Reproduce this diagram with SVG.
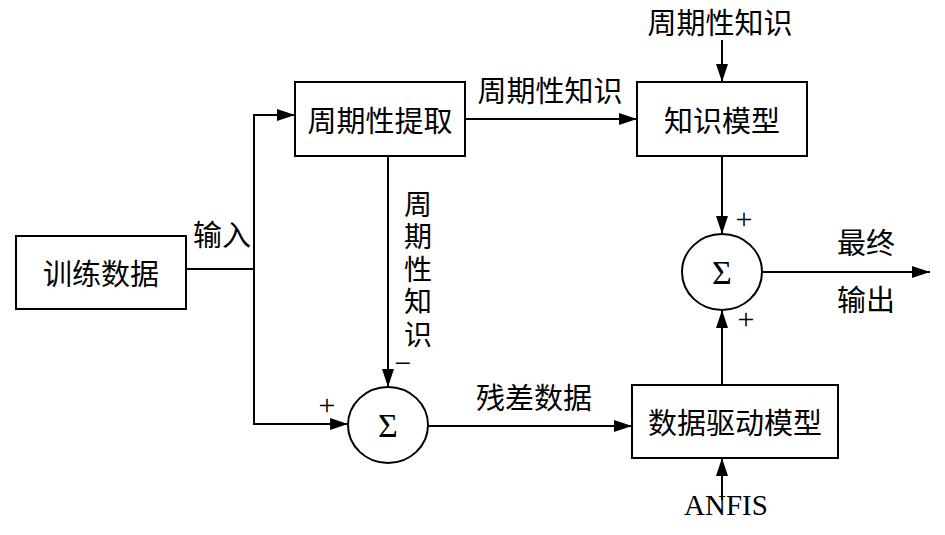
<svg xmlns="http://www.w3.org/2000/svg" width="945" height="535" viewBox="0 0 945 535">
<defs>
<marker id="arr" markerUnits="userSpaceOnUse" markerWidth="20" markerHeight="14" refX="18" refY="6" orient="auto">
<path d="M0,0 L18,6 L0,12 Z" fill="#000"/>
</marker>
<style>
.box{fill:#fff;stroke:#000;stroke-width:2}
.sum{fill:#fff;stroke:#000;stroke-width:2}
.ln{fill:none;stroke:#000;stroke-width:2}
.t{font-family:"Noto Sans CJK SC","Liberation Serif",serif;font-size:29px;fill:#000;text-anchor:middle;dominant-baseline:central}
.s{font-family:"Liberation Serif",serif;fill:#000;text-anchor:middle;dominant-baseline:central}
</style>
</defs>
<rect width="945" height="535" fill="#fff"/>
<g id="connectors">
<path class="ln" d="M186,269 H254 V115 H295" marker-end="url(#arr)"/>
<path class="ln" d="M254,269 V424 H348" marker-end="url(#arr)"/>
<path class="ln" d="M465,119 H637" marker-end="url(#arr)"/>
<path class="ln" d="M722,40 V82" marker-end="url(#arr)"/>
<path class="ln" d="M722,156 V234" marker-end="url(#arr)"/>
<path class="ln" d="M762,272 H930" marker-end="url(#arr)"/>
<path class="ln" d="M388,156 V387" marker-end="url(#arr)"/>
<path class="ln" d="M428,426 H632" marker-end="url(#arr)"/>
<path class="ln" d="M722,385 V310" marker-end="url(#arr)"/>
<path class="ln" d="M722,500 V458" marker-end="url(#arr)"/>
<text class="t" x="222" y="233">输入</text>
<text class="t" x="550" y="89">周期性知识</text>
<text class="t" x="720" y="21" font-size="27">周期性知识</text>
<text x="418" y="190" font-family="Noto Sans CJK SC, sans-serif" font-size="28" writing-mode="vertical-rl" letter-spacing="4.5" fill="#000">周期性知识</text>
<text class="t" x="534" y="396">残差数据</text>
<text class="t" x="866" y="241">最终</text>
<text class="t" x="866" y="298">输出</text>
<text class="s" x="726" y="505" font-size="29">ANFIS</text>
<text class="s" x="744" y="218" font-size="30">+</text>
<text class="s" x="746" y="318" font-size="30">+</text>
<text class="s" x="327" y="404" font-size="30">+</text>
<text class="s" x="403" y="362" font-size="30">−</text>
</g>
<g id="training"><rect class="box" x="16" y="236" width="170" height="73"/><text class="t" x="101" y="272">训练数据</text></g>
<g id="extract"><rect class="box" x="295" y="82" width="170" height="74"/><text class="t" x="380" y="119">周期性提取</text></g>
<g id="knowledge"><rect class="box" x="637" y="82" width="170" height="74"/><text class="t" x="722" y="119">知识模型</text></g>
<g id="datadriven"><rect class="box" x="632" y="385" width="206" height="73"/><text class="t" x="735" y="421">数据驱动模型</text></g>
<g id="sum1"><ellipse class="sum" cx="388" cy="425" rx="40" ry="38"/><text class="s" x="388" y="425" font-size="34">Σ</text></g>
<g id="sum2"><ellipse class="sum" cx="722" cy="272" rx="40" ry="38"/><text class="s" x="722" y="272" font-size="34">Σ</text></g>
</svg>
